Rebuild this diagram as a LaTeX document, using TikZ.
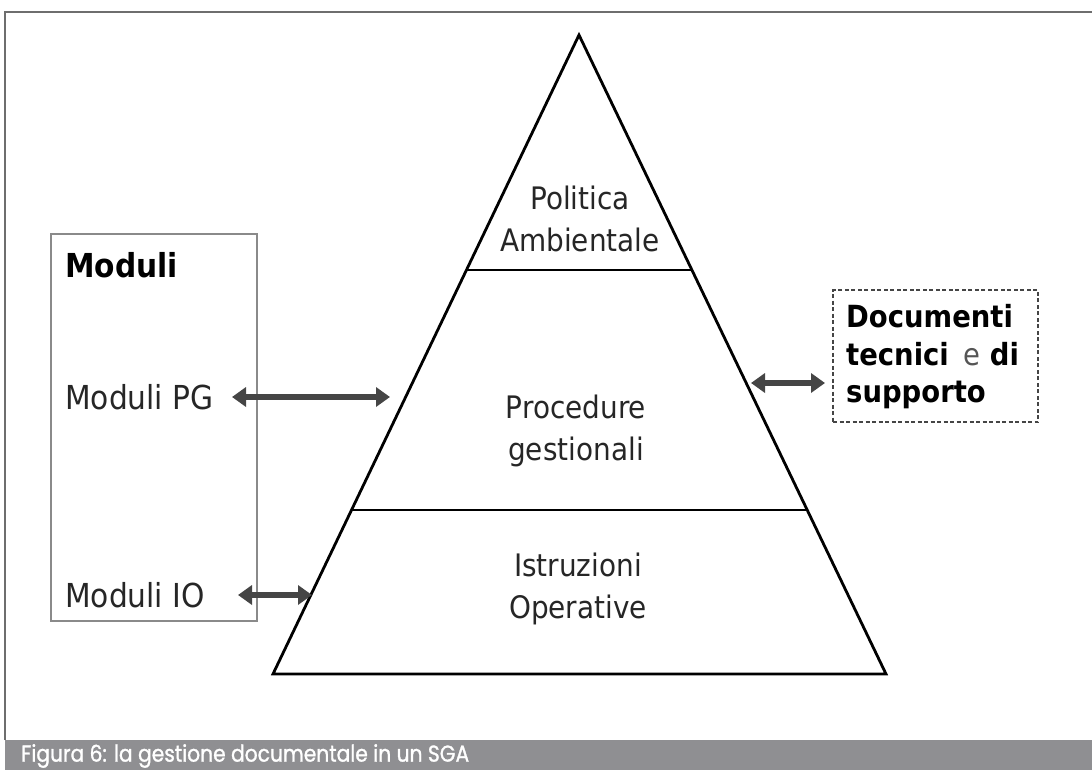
\documentclass[tikz,border=0pt]{standalone}
\usepackage{fontspec}
\usetikzlibrary{arrows.meta,calc}
\newfontfamily\tah[FakeStretch=0.9]{DejaVu Sans}
\newfontfamily\capfont[FakeStretch=0.88,FakeBold=1.2]{Poppins}
\definecolor{framegray}{HTML}{6E6E6E}
\definecolor{boxgray}{HTML}{8A8A8A}
\definecolor{arrowgray}{HTML}{454545}
\definecolor{capgray}{HTML}{8F8F92}
\definecolor{egray}{HTML}{555555}
\tikzset{
  pyr/.style={draw=black,line width=2.8pt,line join=miter},
  level/.style={font=\tah\fontsize{31}{42}\selectfont,align=center,inner sep=0pt,text=black!85},
  modtext/.style={font=\tah\fontsize{33}{40}\selectfont,anchor=west,inner sep=0pt,text=black!85},
  dblarrow/.style={draw=arrowgray,line width=5.5pt,{Triangle[length=14pt,width=19pt]}-{Triangle[length=14pt,width=19pt]}},
}
\begin{document}
\begin{tikzpicture}[x=1pt,y=-1pt]
\useasboundingbox (0,0) rectangle (1092,770);
% frame
\draw[framegray,line width=1.5pt] (5,740) -- (5,12) -- (1092,12);
% caption bar
\fill[capgray] (5,740) rectangle (1092,770);
\node[anchor=west,inner sep=0pt,text=white,font=\capfont\fontsize{23}{26}\selectfont] (cap) at (21,756) {Figura 6: la gestione documentale in un SGA};
% pyramid
\coordinate (apex) at (579,35);
\coordinate (bl) at (273,674);
\coordinate (br) at (886,674);
\coordinate (l1) at ($(apex)!0.3678!(bl)$);
\coordinate (r1) at ($(apex)!0.3678!(br)$);
\coordinate (l2) at ($(apex)!0.7434!(bl)$);
\coordinate (r2) at ($(apex)!0.7434!(br)$);
\draw[pyr] (apex) -- (bl) -- (br) -- cycle;
\draw[pyr] (l1) -- (r1);
\draw[pyr] (l2) -- (r2);
\node[level] (pol) at (580,219) {Politica\\Ambientale};
\node[level] (proc) at (576,431) {Procedure\\gestionali};
\node[level] (istr) at (578,589) {Istruzioni\\Operative};
% Moduli box
\node[draw=boxgray,line width=2pt,minimum width=206pt,minimum height=387pt,inner sep=0pt] (modbox) at (154,427.5) {};
\node[modtext,font=\tah\bfseries\fontsize{33}{40}\selectfont,text=black] (modtitle) at (65,265) {Moduli};
\node[modtext] (modpg) at (65,397) {Moduli PG};
\node[modtext] (modio) at (65,595) {Moduli IO};
% Documenti box
\node[draw=arrowgray,dashed,dash pattern=on 4pt off 2.5pt,line width=1.5pt,minimum width=205pt,minimum height=132pt,inner sep=0pt] (docbox) at (935.5,356) {};
\node[anchor=west,inner sep=0pt,align=left,font=\tah\bfseries\fontsize{30.5}{37.5}\selectfont] (doctext) at (846,357) {Documenti\\tecnici {\mdseries\color{egray}\,e} di\\supporto};
% arrows
\coordinate (pgL) at (232,397);
\coordinate (pgR) at (390,397);
\coordinate (ioL) at (238,595);
\coordinate (ioR) at (312,595);
\coordinate (dL) at (751,383);
\coordinate (dR) at (825,383);
\draw[dblarrow] (pgL) -- (pgR);
\draw[dblarrow] (ioL) -- (ioR);
\draw[dblarrow] (dL) -- (dR);
\end{tikzpicture}
\end{document}
